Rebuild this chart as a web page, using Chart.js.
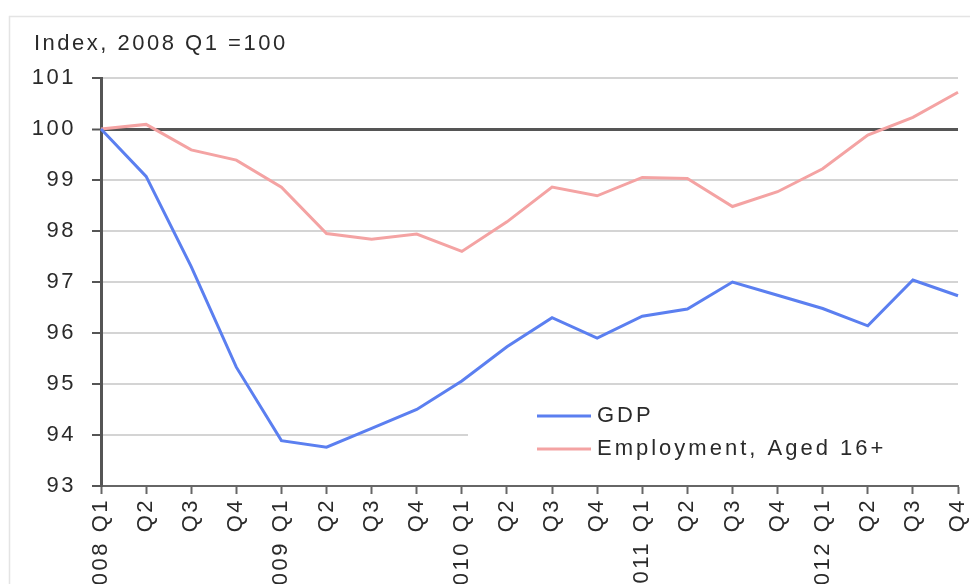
<!DOCTYPE html>
<html>
<head>
<meta charset="utf-8">
<script src="https://cdn.jsdelivr.net/npm/chart.js@4.4.1/dist/chart.umd.min.js"></script>
<style>
  html, body { margin: 0; padding: 0; background: #fff; overflow: hidden; }
  #wrap { width: 970px; height: 584px; position: relative; }
</style>
</head>
<body>
<div id="wrap"><canvas id="grafico"></canvas></div>
<script>
// datos
const trimestres = [
  "2008 Q1", "Q2", "Q3", "Q4",
  "2009 Q1", "Q2", "Q3", "Q4",
  "2010 Q1", "Q2", "Q3", "Q4",
  "2011 Q1", "Q2", "Q3", "Q4",
  "2012 Q1", "Q2", "Q3", "Q4"
];
const gdp = [
  100, 99.07, 97.3, 95.33,
  93.89, 93.76, 94.13, 94.5,
  95.06, 95.73, 96.3, 95.9,
  96.33, 96.47, 97.0, 96.74,
  96.48, 96.14, 97.04, 96.73
];
const empleo = [
  100, 100.09, 99.59, 99.39,
  98.86, 97.95, 97.84, 97.94,
  97.6, 98.18, 98.86, 98.69,
  99.05, 99.03, 98.48, 98.77,
  99.22, 99.88, 100.23, 100.72
];
const titulo = "Index, 2008 Q1 =100";
const nombres = ["GDP", "Employment, Aged 16+"];

const FUENTE = "Liberation Sans, Arial, sans-serif";
const ESPACIADO = "2.5px";

// espaciado de letras en todo el canvas
const espaciado = {
  id: "espaciado",
  beforeUpdate(chart) { chart.ctx.letterSpacing = ESPACIADO; },
  beforeDraw(chart) { chart.ctx.letterSpacing = ESPACIADO; }
};

// marco gris y título
const marco = {
  id: "marco",
  beforeDraw(chart) {
    const ctx = chart.ctx;
    ctx.save();
    ctx.fillStyle = "#fff";
    ctx.fillRect(0, 0, chart.width, chart.height);
    ctx.strokeStyle = "#e4e4e4";
    ctx.lineWidth = 1.5;
    ctx.strokeRect(9.5, 16.5, 1000, 700);
    ctx.fillStyle = "#2a2a2a";
    ctx.font = "22px " + FUENTE;
    ctx.textBaseline = "middle";
    ctx.textAlign = "left";
    ctx.fillText(titulo, 34, 44);
    ctx.restore();
  }
};

// leyenda dentro del área del gráfico
const leyenda = {
  id: "leyenda",
  afterDraw(chart) {
    const ctx = chart.ctx;
    ctx.save();
    ctx.fillStyle = "#fff";
    ctx.fillRect(468, 392, 494, 86);
    ctx.font = "22px " + FUENTE;
    ctx.letterSpacing = "3px";
    ctx.textBaseline = "middle";
    ctx.textAlign = "left";
    chart.data.datasets.forEach((ds, i) => {
      const y = 416 + i * 33;
      ctx.strokeStyle = ds.borderColor;
      ctx.lineWidth = 3;
      ctx.beginPath();
      ctx.moveTo(537, y);
      ctx.lineTo(591, y);
      ctx.stroke();
      ctx.fillStyle = "#2a2a2a";
      ctx.fillText(ds.label, 597, y);
    });
    ctx.restore();
  }
};

const ctx = document.getElementById("grafico");
const chart = new Chart(ctx, {
  type: "line",
  data: {
    labels: trimestres,
    datasets: [
      {
        label: nombres[0],
        data: gdp,
        borderColor: "#5b7ff0",
        borderWidth: 3,
        pointRadius: 0,
        tension: 0
      },
      {
        label: nombres[1],
        data: empleo,
        borderColor: "#f4a3a3",
        borderWidth: 3,
        pointRadius: 0,
        tension: 0
      }
    ]
  },
  options: {
    responsive: true,
    maintainAspectRatio: false,
    animation: false,
    layout: { padding: { top: 78, right: 12, left: 0, bottom: 0 } },
    plugins: {
      legend: { display: false },
      tooltip: { enabled: false },
      title: { display: false }
    },
    scales: {
      x: {
        offset: false,
        grid: {
          drawOnChartArea: false,
          drawTicks: true,
          tickLength: 8,
          tickColor: "#666",
          tickWidth: 2
        },
        border: { color: "#666", width: 2 },
        ticks: {
          autoSkip: false,
          maxRotation: 90,
          minRotation: 90,
          padding: 4,
          color: "#2a2a2a",
          font: { family: FUENTE, size: 22 }
        },
        afterFit(scale) {
          scale.height = 98;
          scale.paddingRight = 0;
          scale.paddingLeft = 0;
        }
      },
      y: {
        min: 93,
        max: 101,
        ticks: {
          stepSize: 1,
          padding: 16,
          color: "#2a2a2a",
          font: { family: FUENTE, size: 22 }
        },
        grid: {
          color: c => (c.tick && c.tick.value === 100) ? "#555" : "#d4d4d4",
          lineWidth: c => (c.tick && c.tick.value === 100) ? 3 : 2,
          tickColor: "#555",
          tickLength: 9,
          tickWidth: 2
        },
        border: { color: "#555", width: 3 },
        afterFit(scale) { scale.width = 101; }
      }
    }
  },
  plugins: [espaciado, marco, leyenda]
});
</script>
</body>
</html>
